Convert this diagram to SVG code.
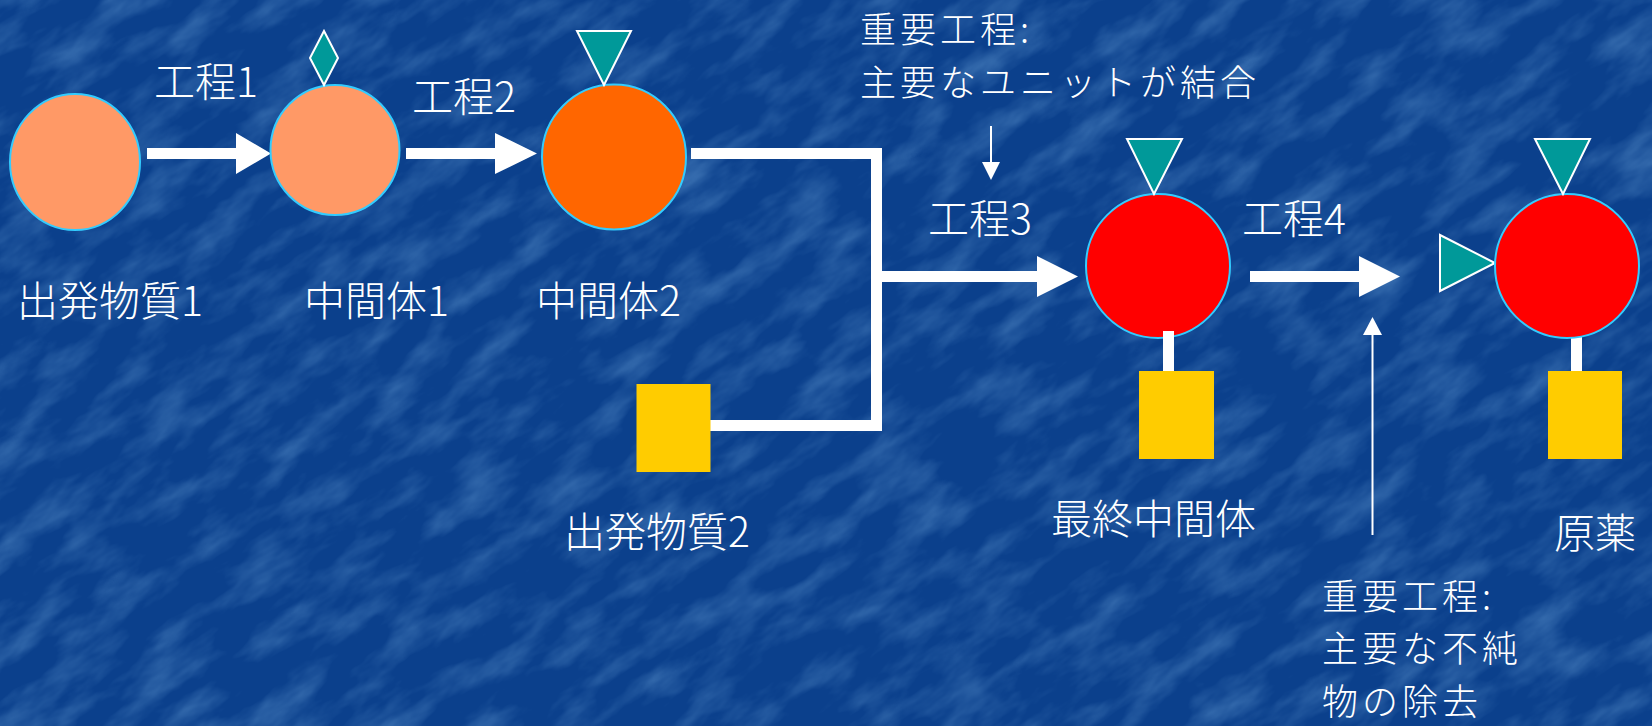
<svg xmlns="http://www.w3.org/2000/svg" width="1652" height="726" viewBox="0 0 1652 726">
  <defs>
    <filter id="tex" x="0" y="0" width="1" height="1">
      <feTurbulence type="fractalNoise" baseFrequency="0.014 0.035" numOctaves="4" seed="11" result="n"/>
      <feColorMatrix in="n" type="matrix" values="0 0 0 0 0.18  0 0 0 0 0.42  0 0 0 0 0.75  2.0 0 0 0 -0.85"/>
    </filter>
    <style>
      .lbl { font-family: "Noto Sans CJK JP", "Noto Sans", sans-serif; font-size: 41px; font-weight: 300; fill: #ffffff; }
      .note { font-family: "Noto Sans CJK JP", "Noto Sans", sans-serif; font-size: 36px; font-weight: 300; letter-spacing: 4px; fill: #ffffff; }
      .c-light { fill: #ff9966; stroke: #33ccff; stroke-width: 2; }
      .c-orange { fill: #ff6600; stroke: #33ccff; stroke-width: 2; }
      .c-red { fill: #ff0000; stroke: #33ccff; stroke-width: 2; }
      .teal { fill: #009999; stroke: #ffffff; stroke-width: 2; stroke-linejoin: miter; }
      .sq { fill: #ffcc00; }
      .bond { fill: #ffffff; }
      .thick { fill: none; stroke: #ffffff; stroke-width: 11; stroke-linejoin: miter; stroke-linecap: butt; }
      .thin { fill: none; stroke: #ffffff; stroke-width: 2; }
      .head { fill: #ffffff; }
    </style>
  </defs>

  <rect width="1652" height="726" fill="#0b408c"/>
  <g transform="rotate(-35 826 363)" opacity="0.4">
    <rect x="-500" y="-700" width="2652" height="2126" filter="url(#tex)"/>
  </g>

  <g id="connectors">
    <polygon class="head" points="147,148 236,148 236,133 271,153.5 236,174 236,159 147,159"/>
    <polygon class="head" points="406,148 495,148 495,133 537,153.5 495,174 495,159 406,159"/>
    <path class="thick" d="M691,153.5 H876.5 V425.5 H705"/>
    <path class="thick" d="M876.5,276.5 H1038"/>
    <polygon class="head" points="1037,256 1078,276.5 1037,297"/>
    <polygon class="head" points="1250,271 1359,271 1359,256 1400,276.5 1359,297 1359,282 1250,282"/>
    <line class="thin" x1="991" y1="126" x2="991" y2="164"/>
    <polygon class="head" points="982,162 1000,162 991,180"/>
    <line class="thin" x1="1372.5" y1="333" x2="1372.5" y2="535"/>
    <polygon class="head" points="1363,335 1382,335 1372.5,317"/>
  </g>

  <g id="step-labels">
    <text class="lbl" x="154" y="97">工程1</text>
    <text class="lbl" x="412" y="112">工程2</text>
    <text class="lbl" x="928" y="234">工程3</text>
    <text class="lbl" x="1242" y="234">工程4</text>
  </g>

  <g id="node-start1">
    <ellipse class="c-light" cx="75" cy="162" rx="65" ry="68"/>
    <text class="lbl" x="17" y="316">出発物質1</text>
  </g>

  <g id="node-int1">
    <ellipse class="c-light" cx="335" cy="150" rx="64.5" ry="65"/>
    <polygon class="teal" points="324,31 338,58 324,85 310,58"/>
    <text class="lbl" x="304" y="316">中間体1</text>
  </g>

  <g id="node-int2">
    <ellipse class="c-orange" cx="614" cy="157" rx="72" ry="72.5"/>
    <polygon class="teal" points="577,31 631,31 604,85"/>
    <text class="lbl" x="536" y="316">中間体2</text>
  </g>

  <g id="node-start2">
    <rect class="sq" x="636.5" y="384" width="74" height="88"/>
    <text class="lbl" x="564" y="547">出発物質2</text>
  </g>

  <g id="note-step3">
    <text class="note" x="860" y="43">重要工程:</text>
    <text class="note" x="860" y="96">主要なユニットが結合</text>
  </g>

  <g id="node-final-int">
    <ellipse class="c-red" cx="1158" cy="266" rx="72" ry="72"/>
    <polygon class="teal" points="1127,139 1182,139 1154,194"/>
    <rect class="bond" x="1163" y="331" width="11" height="40"/>
    <rect class="sq" x="1139" y="371" width="75" height="88"/>
    <text class="lbl" x="1051" y="534">最終中間体</text>
  </g>

  <g id="node-api">
    <polygon class="teal" points="1440,235 1495,263 1440,291"/>
    <rect class="bond" x="1571" y="336" width="11" height="35"/>
    <ellipse class="c-red" cx="1567" cy="266" rx="72" ry="72"/>
    <polygon class="teal" points="1535,139 1590,139 1563,194"/>
    <rect class="sq" x="1548" y="371" width="74" height="88"/>
    <text class="lbl" x="1554" y="548">原薬</text>
  </g>

  <g id="note-step4">
    <text class="note" x="1322" y="609.5">重要工程:</text>
    <text class="note" x="1322" y="662">主要な不純</text>
    <text class="note" x="1322" y="714.5">物の除去</text>
  </g>
</svg>
